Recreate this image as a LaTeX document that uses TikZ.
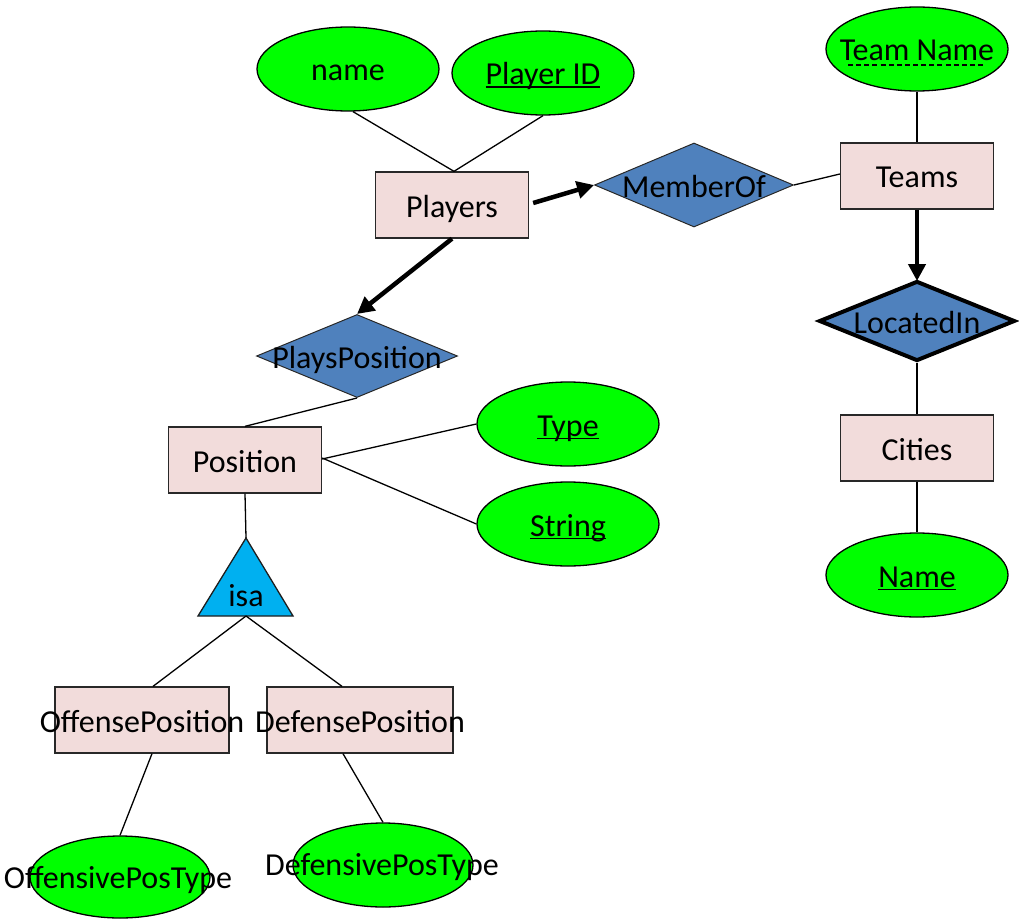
\documentclass[tikz,border=0pt]{standalone}
\usepackage{fontspec}
\setmainfont{Carlito}
\usetikzlibrary{shapes.geometric,arrows.meta}
\tikzset{
  base/.style={inner sep=0pt, font=\fontsize{32}{38}\selectfont},
  attr/.style={base, ellipse, draw=black, line width=1.3pt, fill={rgb,255:red,0;green,255;blue,0}, minimum width=182pt, minimum height=84pt},
  ent/.style={base, rectangle, draw={rgb,255:red,40;green,40;blue,40}, line width=1.3pt, fill={rgb,255:red,242;green,220;blue,219}, minimum width=153pt, minimum height=66pt},
  rel/.style={base, diamond, draw={rgb,255:red,40;green,40;blue,40}, line width=1pt, fill={rgb,255:red,79;green,129;blue,189}, minimum width=199pt, minimum height=84pt},
  conn/.style={line width=1.3pt, draw=black},
  bigarrow/.style={line width=4.5pt, draw=black, -{Triangle[length=17pt,width=17pt]}},
}
\newcommand{\tx}[1]{\makebox[0pt]{\raisebox{0pt}[24pt][0pt]{#1}}}
\newcommand{\solidul}[1]{\setbox0\hbox{#1}\rlap{\rule[-3pt]{\wd0}{1.5pt}}\box0}
\newcommand{\dashul}[1]{\setbox0\hbox{#1}\rlap{\raisebox{-5pt}{\hbox to \wd0{\hskip8pt\xleaders\hbox{\rule{5pt}{1.6pt}\hskip3pt}\hfil\hskip8pt}}}\box0}
\begin{document}
\begin{tikzpicture}[x=1pt,y=-1pt]
\useasboundingbox (0,0) rectangle (1019,920);
% attributes
\node[attr] (name) at (348,69) {\tx{name}};
\node[attr] (pid) at (543,73) {\tx{\solidul{Player ID}}};
\node[attr] (tname) at (917,49) {\tx{\dashul{Team Name}}};
\node[attr] (type) at (568,424) {\tx{\solidul{Type}}};
\node[attr] (string) at (568,524) {\tx{\solidul{String}}};
\node[attr] (cname) at (917,575) {\tx{\solidul{Name}}};
\node[attr, minimum width=180pt, minimum height=82pt] (offt) at (120,877) {};
\node[base] (offtl) at (118,876) {\tx{OffensivePosType}};
\node[attr, minimum width=180pt] (deft) at (383,865) {};
\node[base] (deftl) at (382,863) {\tx{DefensivePosType}};
% entities
\node[ent] (players) at (452,205) {\tx{Players}};
\node[ent] (teams) at (917,176) {\tx{Teams}};
\node[ent] (cities) at (917,448) {\tx{Cities}};
\node[ent] (position) at (245,460) {\tx{Position}};
\node[ent, minimum width=174pt] (off) at (142,720) {\tx{OffensePosition}};
\node[ent, minimum width=186pt] (def) at (360,720) {\tx{DefensePosition}};
% relationships
\node[rel] (member) at (694,185) {\tx{MemberOf}};
\node[rel, draw=black, line width=4pt, minimum width=196pt, minimum height=80pt] (located) at (917,321) {\tx{LocatedIn}};
\node[rel, minimum width=201pt, minimum height=83pt] (plays) at (357,356) {\tx{PlaysPosition}};
% isa triangle
\coordinate (isatop) at (246,538);
\coordinate (isabot) at (246,616);
\path[draw={rgb,255:red,30;green,30;blue,30}, line width=1.3pt, fill={rgb,255:red,0;green,176;blue,240}] (198,616) -- (isatop) -- (293,616) -- cycle;
\node[base] (isa) at (246,594) {\tx{isa}};
% connectors
\draw[conn] ([xshift=5pt]name.south) -- ([xshift=2pt]players.north);
\draw[conn] (pid.south) -- ([xshift=2pt]players.north);
\draw[conn] (tname.south) -- (teams.north);
\draw[conn] (member.east) -- ([yshift=2pt]teams.west);
\draw[conn] (located.south) -- (cities.north);
\draw[conn] (cities.south) -- (cname.north);
\draw[conn] (plays.south) -- (position.north);
\draw[conn] ([yshift=1pt]position.east) -- (type.west);
\draw[conn] ([yshift=2pt]position.east) -- (string.west);
\draw[conn] (position.south) -- (isatop);
\draw[conn] (isabot) -- ([xshift=11pt]off.north);
\draw[conn] (isabot) -- ([xshift=-18pt]def.north);
\draw[conn] ([xshift=10pt]off.south) -- (offt.north);
\draw[conn] ([xshift=-17pt]def.south) -- (deft.north);
\draw[bigarrow] ([xshift=4pt,yshift=2pt]players.east) -- (member.west);
\draw[bigarrow] (players.south) -- (plays.north);
\draw[bigarrow] (teams.south) -- ([yshift=-2pt]located.north);
\end{tikzpicture}
\end{document}
